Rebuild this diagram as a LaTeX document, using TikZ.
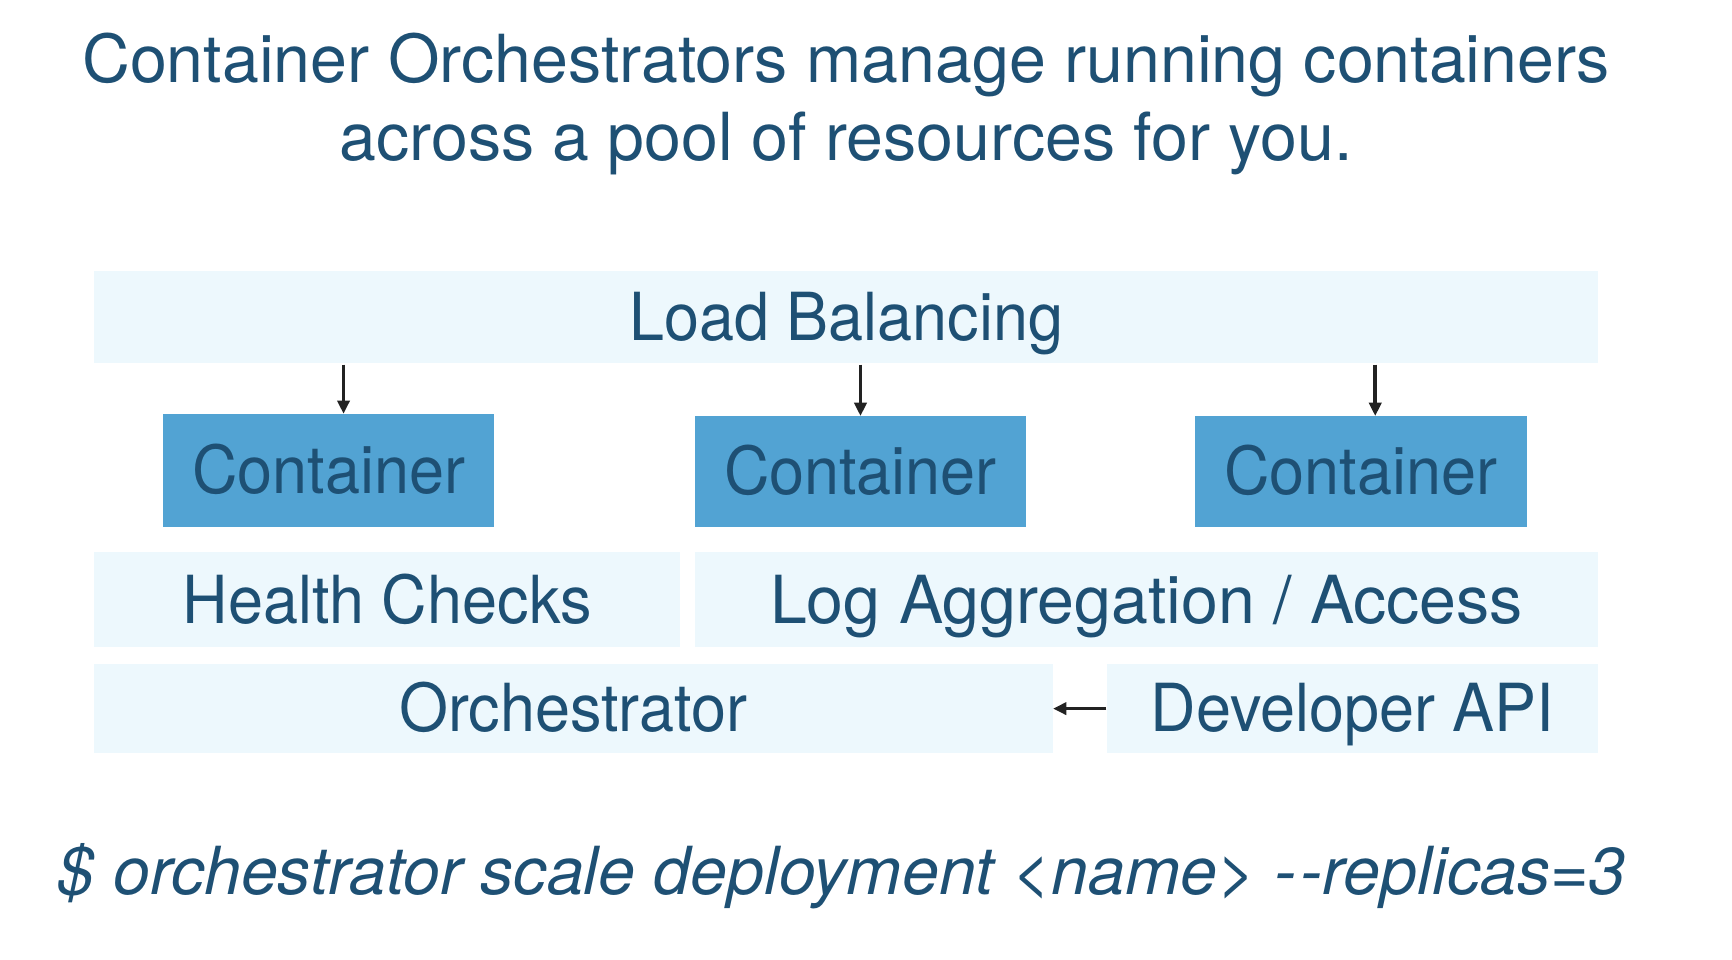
\documentclass[tikz,border=0pt]{standalone}
\usepackage{fontspec}
\setmainfont{TeX Gyre Heros}[FakeStretch=0.95]
\newfontfamily\widefont{TeX Gyre Heros}
\usetikzlibrary{arrows.meta}
\definecolor{txt}{HTML}{1E5074}
\definecolor{lightbg}{HTML}{EDF8FD}
\definecolor{contbg}{HTML}{52A3D3}
\definecolor{arrowc}{HTML}{222222}
\tikzset{
  boxbase/.style={draw=none, inner sep=0pt, text=txt, text height=21pt, text depth=0pt, font=\fontsize{30}{36}\selectfont},
  lightbox/.style={boxbase, fill=lightbg},
  contbox/.style={boxbase, fill=contbg},
  arr/.style={draw=arrowc, line width=1.6pt, -{Triangle[length=6pt,width=5.5pt]}},
  titletext/.style={text=txt, align=center, font=\widefont\fontsize{30}{35}\selectfont},
}
\begin{document}
\begin{tikzpicture}[x=0.5pt,y=-0.5pt]
\useasboundingbox (0,0) rectangle (1568,869);
\node[titletext, anchor=base] (title) at (766,145) {Container Orchestrators manage running containers\\across a pool of resources for you.};
\node[lightbox, minimum width=681pt, minimum height=42pt] (lb) at (766,287) {Load Balancing};
\node[contbox, minimum width=149.5pt, minimum height=51pt] (c1) at (297.5,426) {Container};
\node[contbox, minimum width=150pt, minimum height=50pt] (c2) at (779,427) {Container};
\node[contbox, minimum width=150pt, minimum height=50pt] (c3) at (1232,427) {Container};
\node[lightbox, minimum width=265.5pt, minimum height=43pt] (hc) at (350.5,543) {Health Checks};
\node[lightbox, minimum width=409pt, minimum height=43pt, font=\widefont\fontsize{30}{36}\selectfont] (log) at (1038,543) {Log Aggregation / Access};
\node[lightbox, minimum width=434pt, minimum height=40.5pt] (orch) at (519,641.5) {Orchestrator};
\node[lightbox, minimum width=222.5pt, minimum height=40.5pt] (dev) at (1224.5,641.5) {Developer API};
\coordinate (a1) at (311,330);
\coordinate (a2) at (779,330);
\coordinate (a3) at (1245,330);
\draw[arr] (a1) -- (a1 |- c1.north);
\draw[arr] (a2) -- (a2 |- c2.north);
\draw[arr] (a3) -- (a3 |- c3.north);
\draw[arr] (dev.west) -- (orch.east);
\node[text=txt, anchor=base west, inner sep=0pt, font=\widefont\fontsize{30}{36}\selectfont\itshape] (cmd) at (52,810) {\$ orchestrator scale deployment <name> -\kern2pt-replicas=3};
\end{tikzpicture}
\end{document}
